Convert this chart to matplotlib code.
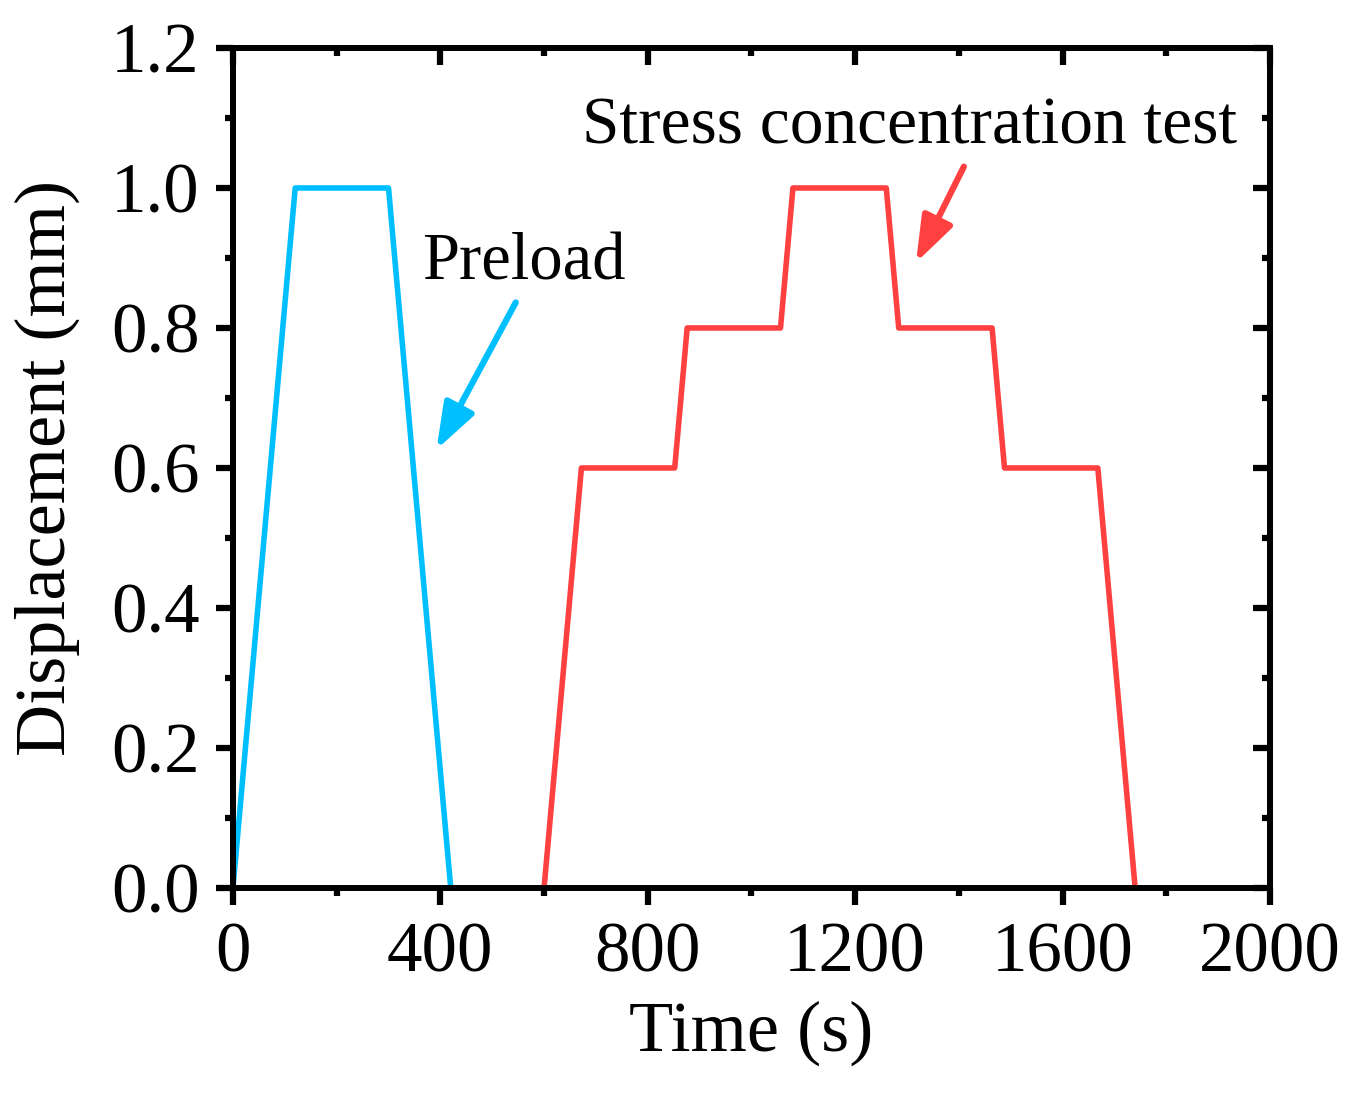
import numpy as np
import matplotlib.pyplot as plt
from matplotlib.ticker import MultipleLocator

plt.rcParams['font.family'] = ['Liberation Serif', 'DejaVu Serif']

# preload curve
pre_t = [0, 120, 300, 420]
pre_d = [0, 1.0, 1.0, 0]

# stress concentration test (stepped)
sc_t = [600, 672, 852, 876, 1056, 1080, 1260, 1284, 1464, 1488, 1668, 1740]
sc_d = [0, 0.6, 0.6, 0.8, 0.8, 1.0, 1.0, 0.8, 0.8, 0.6, 0.6, 0]

blue = '#00BFFF'
red = '#FF4040'

fig = plt.figure(figsize=(13.6, 10.93), dpi=100)
ax = fig.add_axes([0.1713, 0.1876, 0.7625, 0.7685])

ax.plot(pre_t, pre_d, color=blue, lw=4)
ax.plot(sc_t, sc_d, color=red, lw=4)

ax.set_xlim(0, 2000)
ax.set_ylim(0, 1.2)
ax.xaxis.set_major_locator(MultipleLocator(400))
ax.xaxis.set_minor_locator(MultipleLocator(200))
ax.yaxis.set_minor_locator(MultipleLocator(0.1))
ax.set_yticks(np.arange(0, 1.21, 0.2))
ax.set_yticklabels(['%.1f' % v for v in np.arange(0, 1.21, 0.2)])

for s in ax.spines.values():
    s.set_linewidth(4.3)

ax.tick_params(which='both', direction='out', top=False, right=False, labelsize=51, width=4.5)
ax.tick_params(axis='x', pad=12)
ax.tick_params(axis='y', pad=12)
ax.tick_params(which='major', length=12)
ax.tick_params(which='minor', length=6)
# mirrored inward ticks on top and right
ax2 = ax.secondary_xaxis('top')
ax2.xaxis.set_major_locator(MultipleLocator(400))
ax2.xaxis.set_minor_locator(MultipleLocator(200))
ax2.tick_params(which='both', direction='in', labeltop=False, width=4.5)
ax2.tick_params(which='major', length=12)
ax2.tick_params(which='minor', length=6)
ax3 = ax.secondary_yaxis('right')
ax3.yaxis.set_major_locator(MultipleLocator(0.2))
ax3.yaxis.set_minor_locator(MultipleLocator(0.1))
ax3.tick_params(which='both', direction='in', labelright=False, width=4.5)
ax3.tick_params(which='major', length=12)
ax3.tick_params(which='minor', length=6)
for a in (ax2, ax3):
    for s in a.spines.values():
        s.set_linewidth(4.3)

ax.set_xlabel('Time (s)', fontsize=52, labelpad=10)
ax.set_ylabel('Displacement (mm)', fontsize=52, labelpad=22)

ax.text(364, 0.869, 'Preload', fontsize=48)
ax.text(673, 1.064, 'Stress concentration test', fontsize=48.5)

ax.annotate('', xy=(390, 0.623), xytext=(548, 0.84),
            arrowprops=dict(arrowstyle='-|>,head_length=1.4,head_width=0.5', mutation_scale=20,
                            color=blue, lw=4.5))
ax.annotate('', xy=(1315, 0.89), xytext=(1412, 1.034),
            arrowprops=dict(arrowstyle='-|>,head_length=1.4,head_width=0.5', mutation_scale=20,
                            color=red, lw=4.5))

fig.savefig('out.png', dpi=100)
